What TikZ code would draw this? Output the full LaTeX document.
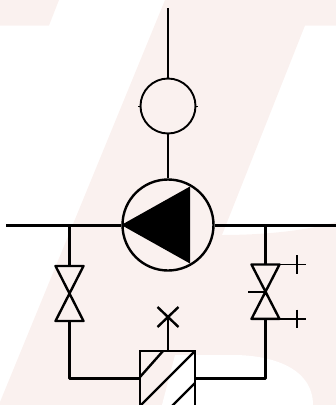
\documentclass[tikz,border=0pt]{standalone}
\usepackage{tikz}
\usetikzlibrary{calc}
\definecolor{blush}{HTML}{FAF1EF}

\begin{document}
\begin{tikzpicture}[x=1pt, y=-1pt]

    \tikzstyle{pipe}=[line width=3pt];
    \tikzstyle{signal}=[line width=1.8pt];
    \tikzstyle{valve}=[line width=2.4pt, line join=round];
    \tikzstyle{tap}=[line width=1.4pt];

    \useasboundingbox (0,0) rectangle (336,405);

    % background
    \fill[blush] (0,0) -- (59,0) -- (49,25.5) -- (0,25.5) -- cycle;
    \fill[blush] (165,0) -- (336,0) -- (336,25.5) -- (305,25.5) -- (222,235)
        .. controls (262,235) and (305,231) .. (336,222) -- (336,405) -- (0,405) -- (0,402) -- cycle;
    \fill[white] (175,355) -- (233,355) .. controls (272,355) and (313,368) .. (313,405) -- (162,405) -- cycle;

    \node[circle, draw=black, line width=1.9pt, minimum size=55pt, inner sep=0pt] (meter) at (168,106) {};
    \node[circle, draw=black, line width=2.4pt, minimum size=91pt, inner sep=0pt] (pump) at (168,225) {};
    \node[rectangle, draw=black, line width=2.4pt, minimum size=55pt, inner sep=0pt] (tank) at (167.5,378.5) {};

    \coordinate (top) at (168,8);
    \coordinate (inlet) at (6,225);
    \coordinate (outlet) at (336,225);
    \coordinate (lv) at (69.5,293.5);
    \coordinate (rv) at (265.5,291.7);
    \coordinate (lj) at (69.5,225);
    \coordinate (rj) at (265.5,225);
    \coordinate (lc) at (69.5,378);
    \coordinate (rc) at (265.5,378);
    \coordinate (vent) at (168,317);
    \coordinate (rt) at ($(rv)+(14,-27.2)$);
    \coordinate (rb) at ($(rv)+(14,27.2)$);
    \coordinate (pt) at ($(rt)+(17.5,0)$);
    \coordinate (pb) at ($(rb)+(17.5,0)$);

    % pipes
    \draw[pipe] (inlet) -- (pump.west);
    \draw[pipe] (pump.east) -- (outlet);
    \draw[pipe] (lj) -- ($(lv)+(0,-27.5)$);
    \draw[pipe] (rj) -- ($(rv)+(0,-27.2)$);
    \draw[pipe, line join=round] ($(lv)+(0,27.5)$) -- (lc) -- (tank.west |- lc);
    \draw[pipe, line join=round] ($(rv)+(0,27.2)$) -- (rc) -- (tank.east |- rc);

    % signal lines
    \draw[signal] (top) -- (meter.north);
    \draw[signal] (meter.south) -- (pump.north);
    \draw[signal] (tank.north -| vent) -- (vent);
    \draw[valve] ($(vent)+(-10.5,-10)$) -- ($(vent)+(10.5,10)$);
    \draw[valve] ($(vent)+(-10.5,10)$) -- ($(vent)+(10.5,-10)$);
    \draw[line width=1pt] (meter.west) -- ++(-1.5,0);
    \draw[line width=1pt] (meter.east) -- ++(1.5,0);

    % pump
    \fill[black] (pump.west) -- ($(pump)+(22,-38.5)$) -- ($(pump)+(22,38.5)$) -- cycle;

    % valves
    \draw[valve] ($(lv)+(-14,-27.5)$) -- ($(lv)+(14,-27.5)$) -- ($(lv)+(-14,27.5)$) -- ($(lv)+(14,27.5)$) -- cycle;
    \draw[valve] ($(rv)+(-14,-27.2)$) -- (rt) -- ($(rv)+(-14,27.2)$) -- (rb) -- cycle;
    \draw[valve] (rv) -- ++(-17.5,0);
    \draw[tap] (rt) -- ($(pt)+(9,0)$);
    \draw[tap] (rb) -- ($(pb)+(9,0)$);
    \draw[tap] ($(pt)+(0,-9.2)$) -- ($(pt)+(0,9.2)$);
    \draw[tap] ($(pb)+(0,-9.2)$) -- ($(pb)+(0,9.2)$);

    % hatching
    \draw[valve] ($(tank)+(-27.5,-1.5)$) -- ($(tank)+(-4.5,-27.5)$);
    \draw[valve] ($(tank)+(-27.5,27.5)$) -- ($(tank)+(27.5,-27.5)$);
    \draw[valve] ($(tank)+(4.5,27.5)$) -- ($(tank)+(27.5,4.5)$);

\end{tikzpicture}
\end{document}
